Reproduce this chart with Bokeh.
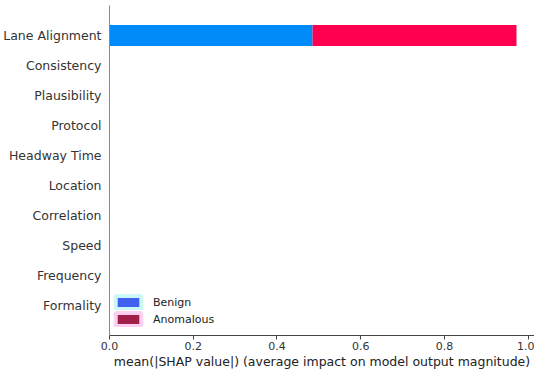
from bokeh.plotting import figure
from bokeh.models import ColumnDataSource, FactorRange, Range1d, FixedTicker, Legend, LegendItem, PrintfTickFormatter
from bokeh.embed import file_html
from bokeh.resources import INLINE

features = ["Formality", "Frequency", "Speed", "Correlation", "Location",
            "Headway Time", "Protocol", "Plausibility", "Consistency", "Lane Alignment"]
benign = [0, 0, 0, 0, 0, 0, 0, 0, 0, 0.485]
anomalous = [0, 0, 0, 0, 0, 0, 0, 0, 0, 0.487]
class_names = ["Benign", "Anomalous"]
x_ticks = [0.0, 0.2, 0.4, 0.6, 0.8, 1.0]

totals = [b + a for b, a in zip(benign, anomalous)]
src = ColumnDataSource(dict(feature=features, benign=benign, anomalous=anomalous, total=totals,
                            zero=[0] * len(features)))

p = figure(width=534, height=371, output_backend="svg", toolbar_location=None,
           y_range=FactorRange(factors=features, range_padding=0.1),
           x_range=Range1d(0, 1.015),
           min_border_left=101, min_border_right=0, min_border_top=5, min_border_bottom=0)

p.hbar(y="feature", left="zero", right="benign", height=0.7, source=src,
       fill_color="#008BFB", line_color=None)
p.hbar(y="feature", left="benign", right="total", height=0.7, source=src,
       fill_color="#FF0051", line_color=None)

# legend-only renderers (hidden from the plot area)
swatch = ColumnDataSource(dict(y=[features[0]], left=[0.0], right=[0.0]))
r_b = p.hbar(y="y", left="left", right="right", height=0.7, source=swatch,
             fill_color="#4060F0", line_color="#CCF8FA", line_width=4, visible=False)
r_a = p.hbar(y="y", left="left", right="right", height=0.7, source=swatch,
             fill_color="#A0204A", line_color="#FCD0F0", line_width=4, visible=False)

legend = Legend(items=[LegendItem(label=class_names[0], renderers=[r_b]),
                       LegendItem(label=class_names[1], renderers=[r_a])],
                location=(3, 8), padding=0, margin=0, spacing=1,
                glyph_width=32, glyph_height=16, label_standoff=9,
                label_text_font="DejaVu Sans", label_text_font_size="11px",
                label_text_color="#222222",
                inactive_fill_alpha=0,
                background_fill_alpha=0, border_line_color=None)
p.add_layout(legend, "center")

p.outline_line_color = None
p.grid.grid_line_color = None
p.background_fill_color = "white"

p.yaxis.major_tick_line_color = None
p.yaxis.minor_tick_line_color = None
p.yaxis.axis_line_color = "#888888"
p.yaxis.major_label_text_font = "DejaVu Sans"
p.yaxis.major_label_text_font_size = "12.5px"
p.yaxis.major_label_text_color = "#333333"
p.yaxis.major_label_standoff = 2

p.xaxis.ticker = FixedTicker(ticks=x_ticks)
p.xaxis.formatter = PrintfTickFormatter(format="%.1f")
p.xaxis.major_tick_out = 4
p.xaxis.major_tick_in = 0
p.xaxis.major_tick_line_color = "#444444"
p.xaxis.axis_line_color = "#444444"
p.xaxis.major_label_text_font = "DejaVu Sans"
p.xaxis.major_label_text_font_size = "11px"
p.xaxis.major_label_text_color = "#333333"
p.xaxis.major_label_standoff = 2
p.xaxis.axis_label = "mean(|SHAP value|) (average impact on model output magnitude)"
p.xaxis.axis_label_text_font = "DejaVu Sans"
p.xaxis.axis_label_text_font_size = "12.5px"
p.xaxis.axis_label_text_font_style = "normal"
p.xaxis.axis_label_text_color = "#222222"
p.xaxis.axis_label_standoff = 1

open("out.html", "w").write(file_html(p, INLINE))
